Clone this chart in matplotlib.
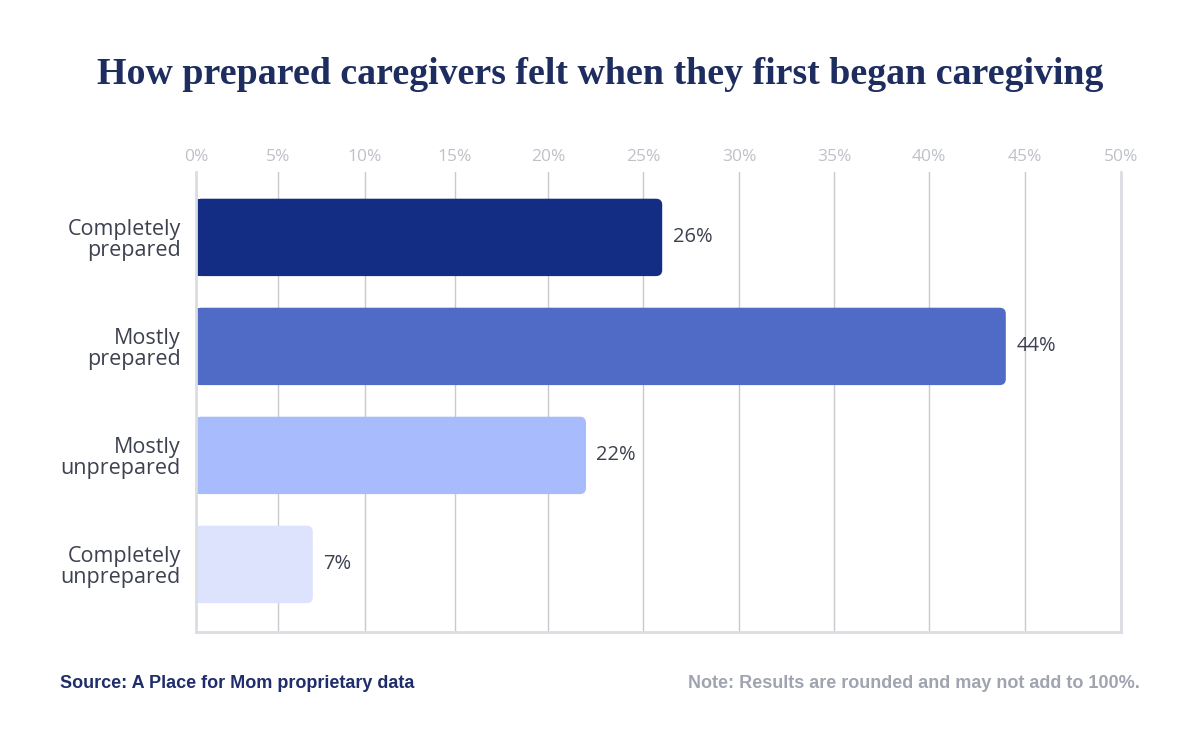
import numpy as np
import matplotlib
matplotlib.use("Agg")
import matplotlib.pyplot as plt
from matplotlib.patches import FancyBboxPatch

# data
categories = ["Completely\nprepared", "Mostly\nprepared", "Mostly\nunprepared", "Completely\nunprepared"]
values = [26, 44, 22, 7]
bar_colors = ["#142d84", "#4f6bc6", "#a8bbfc", "#dde3fd"]
tick_vals = [0, 5, 10, 15, 20, 25, 30, 35, 40, 45, 50]

# the source chart's x axis is slightly compressed at the low end;
# piecewise scale knots (relative pixel spacing of gridlines)
knot_pos = np.array([0, 82, 169, 259, 352, 447, 543, 638, 733, 829, 925], dtype=float)
knot_val = np.array(tick_vals, dtype=float)

def fwd(v):
    return np.interp(v, knot_val, knot_pos)

def inv(p):
    return np.interp(p, knot_pos, knot_val)

plt.rcParams["font.family"] = ["Open Sans", "DejaVu Sans"]

fig = plt.figure(figsize=(12, 7.36), dpi=100)
ax = fig.add_axes([196 / 1200, 1 - 632 / 736, 925 / 1200, 460 / 736])
ax.set_xscale("function", functions=(fwd, inv))
ax.set_xlim(0, 50)
ax.set_ylim(3.62, -0.60)

ypos = np.arange(len(values))
h = 0.71
r = 0.33
for y, v, c in zip(ypos, values, bar_colors):
    # square left part + rounded right end
    ax.barh(y, v - 1.0, height=h, color=c, linewidth=0, zorder=2)
    box = FancyBboxPatch((0, y - h / 2), v, h,
                         boxstyle=f"round,pad=0,rounding_size={r}",
                         mutation_aspect=0.167, facecolor=c, edgecolor="none", zorder=2)
    ax.add_patch(box)
    ax.annotate(f"{v}%", xy=(v, y), xytext=(7.5, 0), textcoords="offset points",
                ha="left", va="center", fontsize=14.5, color="#3d4150")

ax.set_yticks(ypos)
ax.set_yticklabels(categories, fontsize=15.5, color="#3d4150", linespacing=0.98)
ax.tick_params(axis="y", length=0, pad=11)

ax.xaxis.tick_top()
ax.set_xticks(tick_vals)
ax.set_xticklabels([f"{t}%" for t in tick_vals], fontsize=12.5, color="#bfc1c9")
ax.tick_params(axis="x", length=0, pad=5)
ax.grid(axis="x", color="#c9c9cf", linewidth=1)
ax.set_axisbelow(True)

for side in ["left", "bottom", "right"]:
    ax.spines[side].set_color("#dcdde3")
    ax.spines[side].set_linewidth(2)
ax.spines["top"].set_visible(False)

fig.text(0.5, 1 - 75 / 736, "How prepared caregivers felt when they first began caregiving",
         ha="center", va="center", fontsize=27.3, fontweight="bold",
         family="Liberation Serif", color="#1e2d5f")
fig.text(60 / 1200, 1 - 684 / 736, "Source: A Place for Mom proprietary data",
         ha="left", va="center", fontsize=13, fontweight="bold",
         family="Liberation Sans", color="#1f2d6b")
fig.text(1140 / 1200, 1 - 684 / 736, "Note: Results are rounded and may not add to 100%.",
         ha="right", va="center", fontsize=13, fontweight="bold",
         family="Liberation Sans", color="#a0a4b0")

fig.savefig("out.png", dpi=100, facecolor="white")
